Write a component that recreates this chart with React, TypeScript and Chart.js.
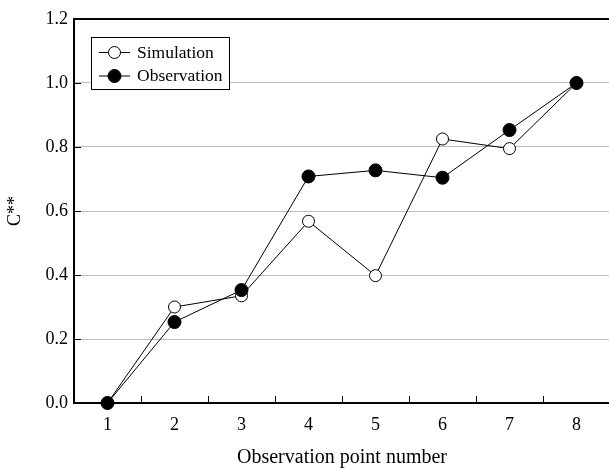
import { useEffect, useRef } from "react";
import { Chart, registerables } from "chart.js";

Chart.register(...registerables);

const categories = ["1", "2", "3", "4", "5", "6", "7", "8"];
const simulation = [0, 0.3, 0.335, 0.568, 0.398, 0.825, 0.795, 1.0];
const observation = [0, 0.253, 0.353, 0.708, 0.727, 0.704, 0.853, 1.0];
const yTicks = [0, 0.2, 0.4, 0.6, 0.8, 1.0, 1.2];
const seriesNames = ["Simulation", "Observation"];
const xTitle = "Observation point number";
const yTitle = "C**";

const FONT = "'Liberation Serif', 'Times New Roman', serif";
const GRID = "#bdbdbd";

const framePlugin = {
  id: "frameTicks",
  beforeDatasetsDraw(chart: any) {
    const ctx = chart.ctx;
    const { left, right, top, bottom } = chart.chartArea;
    const xs = chart.scales.x;
    const ys = chart.scales.y;
    ctx.save();
    ctx.strokeStyle = "#000";
    ctx.lineWidth = 1;
    ys.ticks.forEach((t: any) => {
      const y = Math.round(ys.getPixelForValue(t.value)) + 0.5;
      ctx.beginPath();
      ctx.moveTo(left, y);
      ctx.lineTo(left + 7, y);
      ctx.stroke();
    });
    for (let i = 0; i < categories.length - 1; i++) {
      const x = Math.round((xs.getPixelForValue(i) + xs.getPixelForValue(i + 1)) / 2) + 0.5;
      ctx.beginPath();
      ctx.moveTo(x, bottom);
      ctx.lineTo(x, bottom - 7);
      ctx.stroke();
    }
    ctx.lineWidth = 2;
    ctx.beginPath();
    ctx.moveTo(left, top);
    ctx.lineTo(left, bottom + 1);
    ctx.moveTo(left - 1, bottom);
    ctx.lineTo(right, bottom);
    ctx.moveTo(left - 1, top);
    ctx.lineTo(right, top);
    ctx.moveTo(right, top);
    ctx.lineTo(right, bottom);
    ctx.stroke();
    ctx.restore();
  },
  afterDatasetsDraw(chart: any) {
    const ctx = chart.ctx;
    ctx.save();
    const bx = 91.5, by = 37.5, bw = 138, bh = 52;
    ctx.fillStyle = "#fff";
    ctx.fillRect(bx, by, bw, bh);
    ctx.strokeStyle = "#000";
    ctx.lineWidth = 1;
    ctx.strokeRect(bx, by, bw, bh);
    const rows = [52.5, 76];
    chart.data.datasets
      .slice()
      .sort((a: any, b: any) => seriesNames.indexOf(a.label) - seriesNames.indexOf(b.label))
      .forEach((ds: any, i: number) => {
        const y = rows[i];
        ctx.beginPath();
        ctx.moveTo(99, y);
        ctx.lineTo(130, y);
        ctx.strokeStyle = "#000";
        ctx.lineWidth = 1;
        ctx.stroke();
        ctx.beginPath();
        ctx.arc(114.5, y, ds.pointRadius, 0, Math.PI * 2);
        ctx.fillStyle = ds.pointBackgroundColor;
        ctx.fill();
        ctx.stroke();
        ctx.fillStyle = "#000";
        ctx.font = `17.5px ${FONT}`;
        ctx.textAlign = "left";
        ctx.textBaseline = "middle";
        ctx.fillText(ds.label, 137, y + 0.5);
      });
    ctx.restore();
  },
};

export default function App() {
  const ref = useRef<HTMLCanvasElement | null>(null);

  useEffect(() => {
    document.body.style.margin = "0";
    if (!ref.current) return;
    const chart = new Chart(ref.current, {
      type: "line",
      data: {
        labels: categories,
        datasets: [
          {
            label: seriesNames[0],
            data: simulation,
            borderColor: "#000",
            borderWidth: 1,
            pointRadius: 6,
            pointBorderWidth: 1,
            pointBorderColor: "#000",
            pointBackgroundColor: "#fff",
            backgroundColor: "#fff",
            fill: false,
            tension: 0,
            clip: false,
            order: 2,
          } as any,
          {
            label: seriesNames[1],
            data: observation,
            borderColor: "#000",
            borderWidth: 1,
            pointRadius: 6.5,
            pointBorderWidth: 1,
            pointBorderColor: "#000",
            pointBackgroundColor: "#000",
            backgroundColor: "#000",
            fill: false,
            tension: 0,
            clip: false,
            order: 1,
          } as any,
        ],
      },
      options: {
        responsive: false,
        animation: false,
        devicePixelRatio: 1,
        layout: { padding: { top: 19, right: 10, left: 0, bottom: 0 } },
        plugins: {
          legend: { display: false },
          tooltip: { enabled: false },
        },
        scales: {
          x: {
            type: "category",
            offset: true,
            grid: { display: false, drawTicks: false },
            border: { display: false },
            ticks: {
              color: "#000",
              font: { family: FONT, size: 18 },
              padding: 11,
              maxRotation: 0,
              autoSkip: false,
            },
            title: {
              display: true,
              text: xTitle,
              color: "#000",
              font: { family: FONT, size: 20, lineHeight: 1 },
              padding: { top: 0, bottom: 0 },
            },
            afterFit: (s: any) => {
              s.height = 65;
            },
          },
          y: {
            min: 0,
            max: 1.2,
            afterBuildTicks: (s: any) => {
              s.ticks = yTicks.map((v) => ({ value: v }));
            },
            grid: {
              drawTicks: false,
              lineWidth: 1,
              color: (c: any) =>
                c.tick && (c.tick.value <= 0.0001 || c.tick.value >= 1.1999) ? "rgba(0,0,0,0)" : GRID,
            },
            border: { display: false },
            ticks: {
              color: "#000",
              font: { family: FONT, size: 18 },
              padding: 6,
              callback: (v: any) => Number(v).toFixed(1),
            },
            title: {
              display: true,
              text: yTitle,
              color: "#000",
              font: { family: FONT, size: 18, lineHeight: 1 },
              padding: { top: 6, bottom: 0 },
            },
            afterFit: (s: any) => {
              s.width = 74;
            },
          },
        },
      },
      plugins: [framePlugin],
    });
    return () => chart.destroy();
  }, []);

  return (
    <div
      style={{
        position: "fixed",
        left: 0,
        top: 0,
        width: 609,
        height: 468,
        overflow: "hidden",
        background: "#fff",
      }}
    >
      <canvas ref={ref} width={620} height={468} style={{ width: 620, height: 468, display: "block" }} />
    </div>
  );
}
